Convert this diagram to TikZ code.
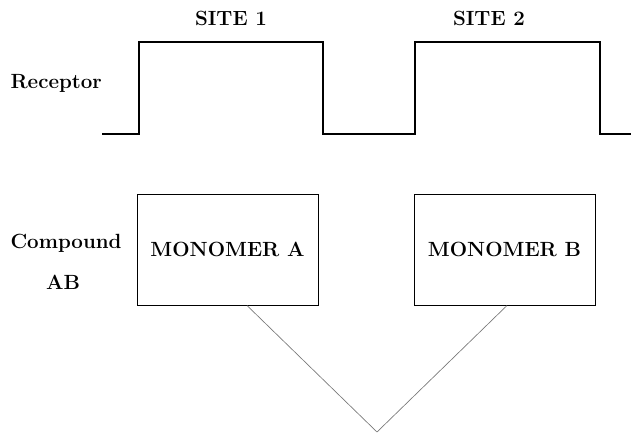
\documentclass[tikz,border=0pt]{standalone}
\usetikzlibrary{calc}

\tikzset{every picture/.style={line width=0.75pt}}
\tikzset{
  lbl/.style={inner sep=0.75pt,font=\fontsize{15.4}{18}\selectfont\bfseries},
  monobox/.style={draw,line width=0.75pt,minimum width=135.75pt,minimum height=83.25pt,font=\fontsize{15.4}{18}\selectfont\bfseries},
  linker/.style={draw={rgb, 255:red, 120; green, 120; blue, 120 },line width=0.5pt}
}

\begin{document}
\begin{tikzpicture}[x=0.75pt,y=0.75pt,yscale=-1,xscale=1]
	\useasboundingbox (0,0) rectangle (631,433);

	%Straight Lines: receptor profile
	\draw [line width=0.9pt] (102,134) -- (139,134) -- (139,42) -- (323,42) -- (323,134) -- (415,134) -- (415,42) -- (600,42) -- (600,134) -- (631,134) ;

	%Shape: Rectangle
	\node [monobox] (monoA) at (227.5,249.5) {MONOMER A};
	%Shape: Rectangle
	\node [monobox] (monoB) at (504.5,249.5) {MONOMER B};

	%Straight Lines: linker
	\coordinate (apex) at (377,432);
	\draw [linker] ($(monoA.south)+(19.5,0)$) -- (apex) -- ($(monoB.south)+(2.5,0)$) ;

	% Text Node
	\node [lbl] (site1) at (231,18) {SITE 1};
	% Text Node
	\node [lbl] (site2) at (489,18) {SITE 2};
	% Text Node
	\node [lbl,anchor=west] (receptor) at (9,83) {Receptor};
	% Text Node
	\node [lbl,anchor=west] (compound) at (9,243) {Compound};
	% Text Node
	\node [lbl] (ab) at (63,282) {AB};

\end{tikzpicture}
\end{document}
